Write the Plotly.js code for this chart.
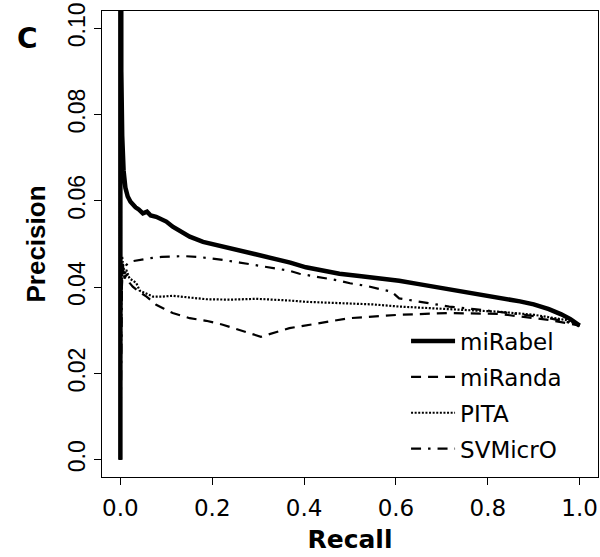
<!DOCTYPE html>
<html>
<head>
<meta charset="utf-8">
<script src="https://cdn.plot.ly/plotly-3.0.1.min.js"></script>
<style>html,body{margin:0;padding:0;background:#fff;}</style>
</head>
<body>
<div id="chart" style="width:600px;height:557px;"></div>
<script>
// ---- data ----
var seriesNames = ["miRabel", "miRanda", "PITA", "SVMicrO"];

var miRabelRecall = [0, 0, 0.002, 0.004, 0.007, 0.011, 0.016, 0.022, 0.027, 0.033, 0.04, 0.049, 0.058, 0.066, 0.078, 0.09, 0.1, 0.114, 0.13, 0.151, 0.18, 0.223, 0.26, 0.296, 0.332, 0.37, 0.404, 0.44, 0.477, 0.52, 0.56, 0.607, 0.65, 0.7, 0.75, 0.8, 0.824, 0.87, 0.9, 0.933, 0.96, 0.98, 1.0];
var miRabelPrecision = [0, 0.6, 0.09, 0.075, 0.067, 0.063, 0.061, 0.0598, 0.059, 0.0585, 0.058, 0.0571, 0.0575, 0.0566, 0.0563, 0.0556, 0.0552, 0.054, 0.053, 0.0517, 0.0505, 0.0494, 0.0484, 0.0475, 0.0468, 0.0457, 0.0446, 0.0439, 0.0431, 0.0426, 0.0421, 0.0415, 0.0407, 0.0398, 0.039, 0.0381, 0.0377, 0.0367, 0.036, 0.0349, 0.0337, 0.0326, 0.0311];

var miRandaRecall = [0, 0.002, 0.005, 0.009, 0.014, 0.02, 0.027, 0.04, 0.057, 0.078, 0.095, 0.114, 0.151, 0.187, 0.223, 0.259, 0.306, 0.368, 0.39, 0.45, 0.498, 0.607, 0.716, 0.824, 0.933, 1.0];
var miRandaPrecision = [0, 0.036, 0.045, 0.042, 0.043, 0.041, 0.0401, 0.039, 0.0378, 0.0359, 0.035, 0.034, 0.0328, 0.0322, 0.0313, 0.0301, 0.0285, 0.0305, 0.0309, 0.0319, 0.0328, 0.0336, 0.034, 0.0338, 0.0324, 0.0311];

var pitaRecall = [0, 0.002, 0.005, 0.009, 0.013, 0.02, 0.028, 0.035, 0.042, 0.055, 0.071, 0.09, 0.114, 0.15, 0.187, 0.24, 0.296, 0.368, 0.404, 0.477, 0.55, 0.607, 0.7, 0.824, 0.9, 0.97, 1.0];
var pitaPrecision = [0, 0.039, 0.046, 0.043, 0.044, 0.042, 0.0415, 0.0409, 0.0392, 0.0385, 0.0378, 0.0378, 0.038, 0.0376, 0.0372, 0.0371, 0.0373, 0.0369, 0.0366, 0.0363, 0.036, 0.0355, 0.035, 0.0343, 0.0336, 0.0324, 0.0311];

var svmRecall = [0, 0.002, 0.004, 0.007, 0.012, 0.02, 0.035, 0.05, 0.064, 0.09, 0.11, 0.136, 0.17, 0.2, 0.223, 0.26, 0.296, 0.33, 0.368, 0.39, 0.42, 0.477, 0.5, 0.54, 0.571, 0.59, 0.607, 0.65, 0.716, 0.77, 0.824, 0.88, 0.933, 0.97, 1.0];
var svmPrecision = [0, 0.038, 0.047, 0.043, 0.045, 0.0459, 0.0462, 0.0465, 0.0467, 0.047, 0.0471, 0.0472, 0.047, 0.0467, 0.0463, 0.0457, 0.0451, 0.0445, 0.0438, 0.0431, 0.0426, 0.0415, 0.0409, 0.0402, 0.0394, 0.039, 0.0374, 0.0366, 0.0355, 0.0349, 0.0343, 0.0336, 0.0328, 0.032, 0.0311];

var xTickVals = [0, 0.2, 0.4, 0.6, 0.8, 1.0];
var xTickText = ["0.0", "0.2", "0.4", "0.6", "0.8", "1.0"];
var yTickVals = [0, 0.02, 0.04, 0.06, 0.08, 0.10];
var yTickText = ["0.0", "0.02", "0.04", "0.06", "0.08", "0.10"];

// ---- chart ----
var WIDE = "DejaVu Sans, Verdana, sans-serif";
var ARIAL = "Liberation Sans, Arial, Helvetica, sans-serif";
function tr(name, x, y, width, dash, grp) {
  return {
    type: "scatter", mode: "lines", name: name, x: x, y: y,
    legendgroup: grp,
    line: {color: "#000", width: width, dash: dash},
    hoverinfo: "skip"
  };
}
var data = [
  tr(seriesNames[0], miRabelRecall, miRabelPrecision, 4.5, "solid", "a"),
  tr(seriesNames[1], miRandaRecall, miRandaPrecision, 2.2, "10px,7px", "b"),
  tr(seriesNames[2], pitaRecall, pitaPrecision, 2.2, "2px,1.6px", "c"),
  tr(seriesNames[3], svmRecall, svmPrecision, 2.2, "10px,7px,2.5px,7px", "d")
];

var axisCommon = {
  showgrid: false, zeroline: false, showline: true, mirror: true,
  linecolor: "#000", linewidth: 1, ticks: "outside", ticklen: 7,
  tickcolor: "#000", tickwidth: 1
};

var layout = {
  width: 600, height: 557,
  margin: {l: 102, r: 2, t: 11, b: 80},
  paper_bgcolor: "#fff", plot_bgcolor: "#fff",
  showlegend: true,
  xaxis: Object.assign({}, axisCommon, {
    range: [-0.04, 1.04], tickvals: xTickVals, ticktext: xTickText,
    tickfont: {family: WIDE, size: 23, color: "#000"},
    ticklabelstandoff: 3,
    title: {text: "<b>Recall</b>", font: {family: WIDE, size: 25, color: "#000"}, standoff: 10}
  }),
  yaxis: Object.assign({}, axisCommon, {
    range: [-0.004, 0.104], tickvals: yTickVals, ticktext: yTickText,
    tickangle: -90,
    tickfont: {family: ARIAL, size: 23, color: "#000"},
    title: {text: "<b>Precision</b>", font: {family: ARIAL, size: 26, color: "#000"}, standoff: 10}
  }),
  legend: {
    x: 0.613, xanchor: "left", y: 0.338, yanchor: "top",
    bgcolor: "rgba(0,0,0,0)", borderwidth: 0,
    font: {family: WIDE, size: 23, color: "#000"},
    itemwidth: 44, tracegroupgap: 3
  },
  annotations: [{
    text: "<b>C</b>", xref: "paper", yref: "paper",
    x: -0.15, y: 0.94, xanchor: "center", yanchor: "middle",
    showarrow: false, font: {family: WIDE, size: 28, color: "#000"}
  }]
};

Plotly.newPlot("chart", data, layout, {displayModeBar: false, staticPlot: true});
</script>
</body>
</html>
